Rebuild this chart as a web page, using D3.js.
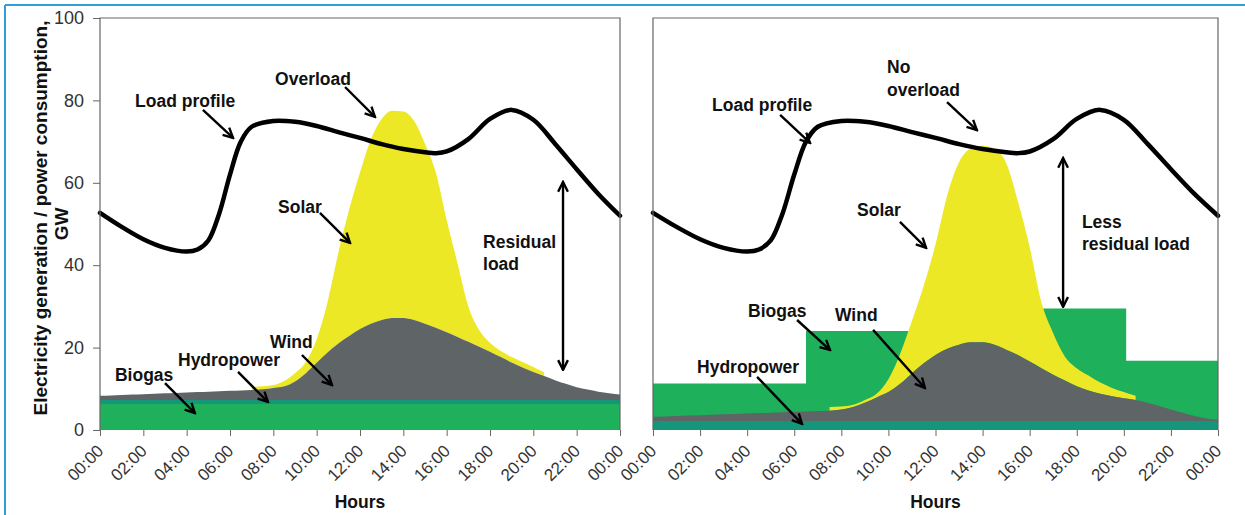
<!DOCTYPE html>
<html><head><meta charset="utf-8">
<script src="https://cdn.jsdelivr.net/npm/d3@7"></script>
<style>
body{margin:0;background:#fff}
svg{display:block}
text{font-family:"Liberation Sans",Arial,sans-serif}
</style>
</head><body>
<svg id="chart" width="1245" height="515"></svg>
<script>
// ---------------- DATA ----------------
const halfHours = [0,0.5,1,1.5,2,2.5,3,3.5,4,4.5,5,5.5,6,6.5,7,7.5,8,8.5,9,9.5,10,10.5,11,11.5,12,12.5,13,13.5,14,14.5,15,15.5,16,16.5,17,17.5,18,18.5,19,19.5,20,20.5,21,21.5,22,22.5,23,23.5,24];
const tickHours = [0,2,4,6,8,10,12,14,16,18,20,22,24];
const tickLabels = ["00:00","02:00","04:00","06:00","08:00","10:00","12:00","14:00","16:00","18:00","20:00","22:00","00:00"];
const yTicks = [0,20,40,60,80,100];

// Load profile (same in both scenarios), GW
const loadHours = [0,1,2,3,4,4.5,5,5.5,6,6.5,7,8,9,10,11,12,13,14,15,15.5,16,17,18,19,20,21,22,23,24];
const loadGW    = [52.7,49.3,46.3,44.2,43.3,43.8,46.0,52.5,62.0,70.0,73.6,75.0,74.8,73.8,72.3,70.9,69.4,68.2,67.4,67.2,67.6,70.6,75.5,77.7,75.3,69.5,63.3,57.3,52];

// Left scenario (with overload)
const biogasLeftGW = 6.3;
const hydroLeftGW = 1.0;
const windLeftGW = [1.0,1.1,1.2,1.3,1.4,1.5,1.6,1.7,1.8,1.9,2.0,2.1,2.2,2.3,2.4,2.6,2.9,3.3,4.5,6.5,9.0,11.5,13.7,15.5,17.2,18.5,19.4,19.9,19.9,19.4,18.5,17.5,16.4,15.3,14.1,12.9,11.7,10.4,9.1,7.9,6.8,5.8,4.8,3.9,3.1,2.5,2.0,1.6,1.3];
const solarLeftGW = [null,null,null,null,null,null,null,null,null,null,null,null,null,null,0.7,0.7,0.7,1.3,2.0,2.7,5.7,12.2,22,30.7,38,44.7,48.8,50.3,50.1,48.3,43.7,37.7,27.3,17.9,8.6,4.1,2.2,1.5,1.3,1.3,1.2,0.9,null,null,null,null,null,null,null];

// Right scenario (no overload)
const hydroRightGW = 2.2;
const windRightGW = [1.0,1.1,1.2,1.3,1.4,1.5,1.6,1.7,1.8,1.9,2.0,2.1,2.2,2.3,2.4,2.5,2.8,3.4,4.4,5.7,7.0,9.0,11.6,14.0,16.0,17.5,18.5,19.1,19.1,18.5,17.3,16.0,14.4,12.8,11.2,9.8,8.4,7.4,6.6,6.0,5.5,5.1,4.4,3.6,2.8,2.0,1.2,0.6,0.3];
const solarRightGW = [null,null,null,null,null,null,null,null,null,null,null,null,null,null,null,0.9,0.7,0.5,0.7,0.9,3.1,7.3,12.7,18.8,26.8,37.3,44.3,47.0,47.7,47.6,45.3,37.3,27.8,16.0,10.1,5.8,4.4,3.6,2.7,2.0,1.5,1.0,null,null,null,null,null,null,null];
const biogasRightHours = [0,6.5,13,20.1,24];
const biogasRightGW    = [11.3,24,29.5,16.8,16.8];

// ---------------- STYLE ----------------
const C = {
  biogas:"#1eb05a", hydro:"#15967a", wind:"#5f6466", solar:"#ece826",
  load:"#000", axis:"#666", frame:"#2e9fd6", text:"#111", tick:"#333"
};

const svg = d3.select("#chart");
const y = d3.scaleLinear().domain([0,100]).range([430,18]);
const xL = d3.scaleLinear().domain([0,24]).range([100,620]);
const xR = d3.scaleLinear().domain([0,24]).range([653,1218]);

// frame
svg.append("line").attr("x1",5).attr("y1",5).attr("x2",1245).attr("y2",5).attr("stroke",C.frame).attr("stroke-width",2);
svg.append("line").attr("x1",5).attr("y1",5).attr("x2",5).attr("y2",515).attr("stroke",C.frame).attr("stroke-width",2);

// arrow markers
const defs = svg.append("defs");
defs.append("marker").attr("id","ah").attr("viewBox","0 0 12 12").attr("refX",10.5).attr("refY",6)
  .attr("markerUnits","userSpaceOnUse").attr("markerWidth",13).attr("markerHeight",13).attr("orient","auto-start-reverse")
  .append("path").attr("d","M1.5,1.5 L10.5,6 L1.5,10.5").attr("fill","none").attr("stroke","#000").attr("stroke-width",2.2);

function drawPanel(x, layers, load) {
  const g = svg.append("g");
  layers.forEach(L => {
    const area = d3.area()
      .defined((d,i) => L.top[i] != null)
      .x((d,i) => x(L.hours[i]))
      .y0((d,i) => y(L.bottom[i]))
      .y1((d,i) => y(L.top[i]))
      .curve(L.curve || d3.curveMonotoneX);
    g.append("path").datum(L.hours).attr("d", area).attr("fill", L.color);
  });
  const line = d3.line().x((d,i)=>x(loadHours[i])).y(d=>y(d)).curve(d3.curveCatmullRom.alpha(0.5));
  g.append("path").datum(load).attr("d", line).attr("fill","none")
    .attr("stroke",C.load).attr("stroke-width",4.5).attr("stroke-linejoin","round").attr("stroke-linecap","round");
  // box
  const x0 = x.range()[0], x1 = x.range()[1];
  g.append("path").attr("d",`M${x0},${y(0)}V${y(100)}H${x1}V${y(0)}`).attr("fill","none").attr("stroke",C.axis).attr("stroke-width",1.2);
  // x axis
  const ax = g.append("g").attr("transform",`translate(0,${y(0)})`)
    .call(d3.axisBottom(x).tickValues(tickHours).tickFormat((d,i)=>tickLabels[i]).tickSize(6).tickSizeOuter(0));
  ax.select(".domain").remove();
  ax.selectAll(".tick line").attr("stroke",C.axis);
  ax.selectAll(".tick text").attr("fill",C.tick).attr("font-size","17px")
    .attr("text-anchor","end").attr("dy",0).attr("y",0)
    .attr("transform","translate(4,22) rotate(-45)");
  return g;
}

function stackLeft() {
  const b0 = halfHours.map(()=>0), b1 = halfHours.map(()=>biogasLeftGW);
  const h1 = b1.map(v=>v+hydroLeftGW);
  const w1 = h1.map((v,i)=>v+windLeftGW[i]);
  const s1 = w1.map((v,i)=> solarLeftGW[i]==null ? null : v+solarLeftGW[i]);
  return [
    {hours:halfHours, bottom:w1, top:s1, color:C.solar},
    {hours:halfHours, bottom:h1, top:w1, color:C.wind},
    {hours:halfHours, bottom:b1, top:h1, color:C.hydro},
    {hours:halfHours, bottom:b0, top:b1, color:C.biogas}
  ];
}
function stackRight() {
  const z = halfHours.map(()=>0);
  const h1 = halfHours.map(()=>hydroRightGW);
  const w1 = h1.map((v,i)=>v+windRightGW[i]);
  const s1 = w1.map((v,i)=> solarRightGW[i]==null ? null : v+solarRightGW[i]);
  return [
    {hours:biogasRightHours, bottom:biogasRightHours.map(()=>0), top:biogasRightGW, color:C.biogas, curve:d3.curveStepAfter},
    {hours:halfHours, bottom:w1, top:s1, color:C.solar},
    {hours:halfHours, bottom:h1, top:w1, color:C.wind},
    {hours:halfHours, bottom:z, top:h1, color:C.hydro}
  ];
}

drawPanel(xL, stackLeft(), loadGW);
drawPanel(xR, stackRight(), loadGW);

// y axis (left panel)
const ay = svg.append("g").attr("transform",`translate(${xL(0)},0)`)
  .call(d3.axisLeft(y).tickValues(yTicks).tickSize(7).tickPadding(9).tickSizeOuter(0));
ay.select(".domain").remove();
ay.selectAll(".tick line").attr("stroke",C.axis);
ay.selectAll(".tick text").attr("fill",C.tick).attr("font-size","18px");

// axis titles
svg.append("text").attr("transform","translate(47,218) rotate(-90)")
  .attr("text-anchor","middle").attr("font-size","19px").attr("font-weight","bold").attr("fill",C.text)
  .text("Electricity generation / power consumption,");
svg.append("text").attr("transform","translate(68,224) rotate(-90)")
  .attr("text-anchor","middle").attr("font-size","19px").attr("font-weight","bold").attr("fill",C.text).text("GW");
svg.append("text").attr("x",(xL(0)+xL(24))/2).attr("y",508).attr("text-anchor","middle")
  .attr("font-size","17.5px").attr("font-weight","bold").attr("fill",C.text).text("Hours");
svg.append("text").attr("x",(xR(0)+xR(24))/2).attr("y",508).attr("text-anchor","middle")
  .attr("font-size","17.5px").attr("font-weight","bold").attr("fill",C.text).text("Hours");

// annotations: [hour, GW] positions
const notesLeft = [
  {t:"Overload", p:[8.08,83.7]},
  {t:"Load profile", p:[1.62,78.4]},
  {t:"Solar", p:[8.22,52.7]},
  {t:"Residual", p:[17.68,44.2]},
  {t:"load", p:[17.68,38.8]},
  {t:"Wind", p:[7.85,19.9]},
  {t:"Hydropower", p:[3.6,15.5]},
  {t:"Biogas", p:[0.69,11.9]}
];
const arrowsLeft = [
  {a:[11.31,83.25], b:[12.69,76.0]},
  {a:[4.75,77.7], b:[6.14,70.9]},
  {a:[10.15,52.7], b:[11.54,45.4]},
  {a:[9.32,18.2], b:[10.71,10.9]},
  {a:[6.37,14.1], b:[7.75,6.8]},
  {a:[3.0,11.4], b:[4.38,4.1]},
  {a:[21.37,60.2], b:[21.37,14.6], both:true}
];
const notesRight = [
  {t:"No", p:[9.94,86.7]},
  {t:"overload", p:[9.94,81.1]},
  {t:"Load profile", p:[2.51,77.4]},
  {t:"Solar", p:[8.67,51.9]},
  {t:"Less", p:[18.22,49.0]},
  {t:"residual load", p:[18.22,43.7]},
  {t:"Biogas", p:[4.04,27.4]},
  {t:"Wind", p:[7.73,26.5]},
  {t:"Hydropower", p:[1.87,13.8]}
];
const arrowsRight = [
  {a:[12.49,79.6], b:[13.76,72.8]},
  {a:[5.4,76.5], b:[6.67,69.7]},
  {a:[10.49,50.5], b:[11.6,44.2]},
  {a:[17.42,66.0], b:[17.42,29.9], both:true},
  {a:[6.12,26.7], b:[7.52,19.4]},
  {a:[9.35,24.3], b:[11.55,10.2]},
  {a:[4.42,12.9], b:[6.33,1.5]}
];

function annotate(x, notes, arrows) {
  const g = svg.append("g");
  arrows.forEach(A => {
    const l = g.append("line").attr("x1",x(A.a[0])).attr("y1",y(A.a[1])).attr("x2",x(A.b[0])).attr("y2",y(A.b[1]))
      .attr("stroke","#000").attr("stroke-width",2.4).attr("marker-end","url(#ah)");
    if (A.both) l.attr("marker-start","url(#ah)");
  });
  notes.forEach(n => {
    g.append("text").attr("x",x(n.p[0])).attr("y",y(n.p[1])).attr("font-size","17.5px")
      .attr("font-weight","bold").attr("fill",C.text).text(n.t);
  });
}
annotate(xL, notesLeft, arrowsLeft);
annotate(xR, notesRight, arrowsRight);
</script>
</body></html>
